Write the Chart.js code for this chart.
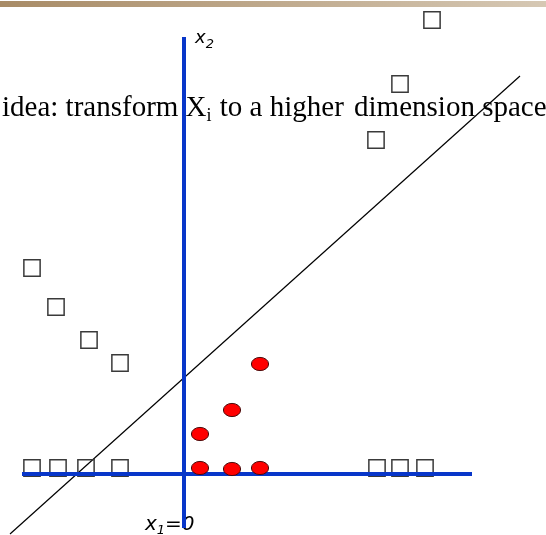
<!DOCTYPE html>
<html>
<head>
<meta charset="utf-8">
<script src="https://cdn.jsdelivr.net/npm/chart.js@4.4.1/dist/chart.umd.min.js"></script>
<style>
  html, body { margin: 0; padding: 0; background: #fff; }
  #wrap { position: relative; width: 546px; height: 535px; }
  #topBar {
    position: absolute; left: 0; top: 1px; width: 546px; height: 6px;
    background: linear-gradient(to right, #a88b66, #d6c8b4);
  }
</style>
</head>
<body>
<div id="wrap">
  <canvas id="mapChart"></canvas>
  <div id="topBar"></div>
</div>
<script>
// class "o" (red): small |x1|, lifted by the mapping
const circleX = [1.6, 4.8, 7.6, 1.6, 4.8, 7.6];
const circleY = [0.6, 0.5, 0.6, 4.0, 6.4, 11.0];

// class "x" (squares): on the x1 line and after the mapping
const squareX = [-15.2, -12.6, -9.8, -6.4, 19.3, 21.6, 24.1, -15.2, -12.8, -9.5, -6.4, 19.2, 21.6, 24.8];
const squareY = [0.6, 0.6, 0.6, 0.6, 0.6, 0.6, 0.6, 20.6, 16.7, 13.4, 11.1, 33.4, 39.0, 45.4];

// axes and separating line
const axisX1 = [[-16.2, 0], [28.8, 0]];
const axisX2 = [[0, -5.4], [0, 43.7]];
const sepLine = [[-17.4, -6.0], [33.6, 39.8]];

const xRange = [-18.4, 36.2];
const yRange = [-6.1, 47.4];

const heading = ['idea: transform ', 'X', 'i', ' to a higher', ' dimension space'];

const toPts = (xs, ys) => xs.map((v, i) => ({ x: v, y: ys[i] }));
const pairs = arr => arr.map(p => ({ x: p[0], y: p[1] }));

function ellipseMarker() {
    const c = document.createElement('canvas');
    c.width = 20;
    c.height = 16;
    const g = c.getContext('2d');
    g.beginPath();
    g.ellipse(10, 8, 8.6, 6.6, 0, 0, Math.PI * 2);
    g.fillStyle = '#ff0000';
    g.fill();
    g.lineWidth = 1;
    g.strokeStyle = '#4a0a0a';
    g.stroke();
    return c;
}

// heading and axis names, drawn under the marks
const slideText = {
    id: 'slideText',
    beforeDatasetsDraw(chart) {
        const { ctx } = chart;
        const sx = chart.scales.x, sy = chart.scales.y;
        ctx.save();
        ctx.fillStyle = '#000';
        ctx.textBaseline = 'alphabetic';

        let px = 2;
        const base = 116;
        const big = '29px "Liberation Serif", "Times New Roman", serif';
        const small = '18px "Liberation Serif", "Times New Roman", serif';
        heading.forEach((part, i) => {
            const sub = i === 2;
            ctx.font = sub ? small : big;
            ctx.fillText(part, px, sub ? base + 5 : base);
            px += ctx.measureText(part).width + (sub ? 1 : 0) + (i === 3 ? 3 : 0);
        });

        const ax = sx.getPixelForValue(0);
        const subFont = 'italic 13px "DejaVu Sans", Verdana, sans-serif';

        // x2 beside the top of the vertical axis
        let lx = ax + 11, ly = sy.getPixelForValue(43.1);
        ctx.font = 'italic 18px "DejaVu Sans", Verdana, sans-serif';
        ctx.fillText('x', lx, ly);
        lx += ctx.measureText('x').width;
        ctx.font = subFont;
        ctx.fillText('2', lx, ly + 5);

        // x1=0 under the bottom of the vertical axis
        lx = ax - 39; ly = sy.getPixelForValue(-5.6);
        ctx.font = 'italic 20px "DejaVu Sans", Verdana, sans-serif';
        ctx.fillText('x', lx, ly);
        lx += ctx.measureText('x').width;
        ctx.font = subFont;
        ctx.fillText('1', lx, ly + 4);
        lx += ctx.measureText('1').width;
        ctx.font = 'italic 20px "DejaVu Sans", Verdana, sans-serif';
        ctx.fillText('=0', lx, ly);
        ctx.restore();
    }
};

new Chart(document.getElementById('mapChart'), {
    type: 'scatter',
    data: {
        datasets: [
            {
                label: 'o',
                data: toPts(circleX, circleY),
                pointStyle: ellipseMarker(),
                pointRadius: 8
            },
            {
                label: 'x1',
                data: pairs(axisX1),
                showLine: true,
                borderColor: '#0836c9',
                borderWidth: 4,
                pointRadius: 0
            },
            {
                label: 'x2',
                data: pairs(axisX2),
                showLine: true,
                borderColor: '#0836c9',
                borderWidth: 4,
                pointRadius: 0
            },
            {
                label: 'x',
                data: toPts(squareX, squareY),
                pointStyle: 'rect',
                pointRadius: 11.5,
                backgroundColor: 'rgba(0,0,0,0)',
                borderColor: '#3a3a3a',
                borderWidth: 1.5
            },
            {
                label: 'separator',
                data: pairs(sepLine),
                showLine: true,
                borderColor: '#000',
                borderWidth: 1.2,
                pointRadius: 0
            }
        ]
    },
    options: {
        responsive: true,
        maintainAspectRatio: false,
        animation: false,
        events: [],
        layout: { padding: 0, autoPadding: false },
        plugins: {
            legend: { display: false },
            tooltip: { enabled: false }
        },
        scales: {
            x: { type: 'linear', display: false, min: xRange[0], max: xRange[1] },
            y: { type: 'linear', display: false, min: yRange[0], max: yRange[1] }
        }
    },
    plugins: [slideText]
});
</script>
</body>
</html>
